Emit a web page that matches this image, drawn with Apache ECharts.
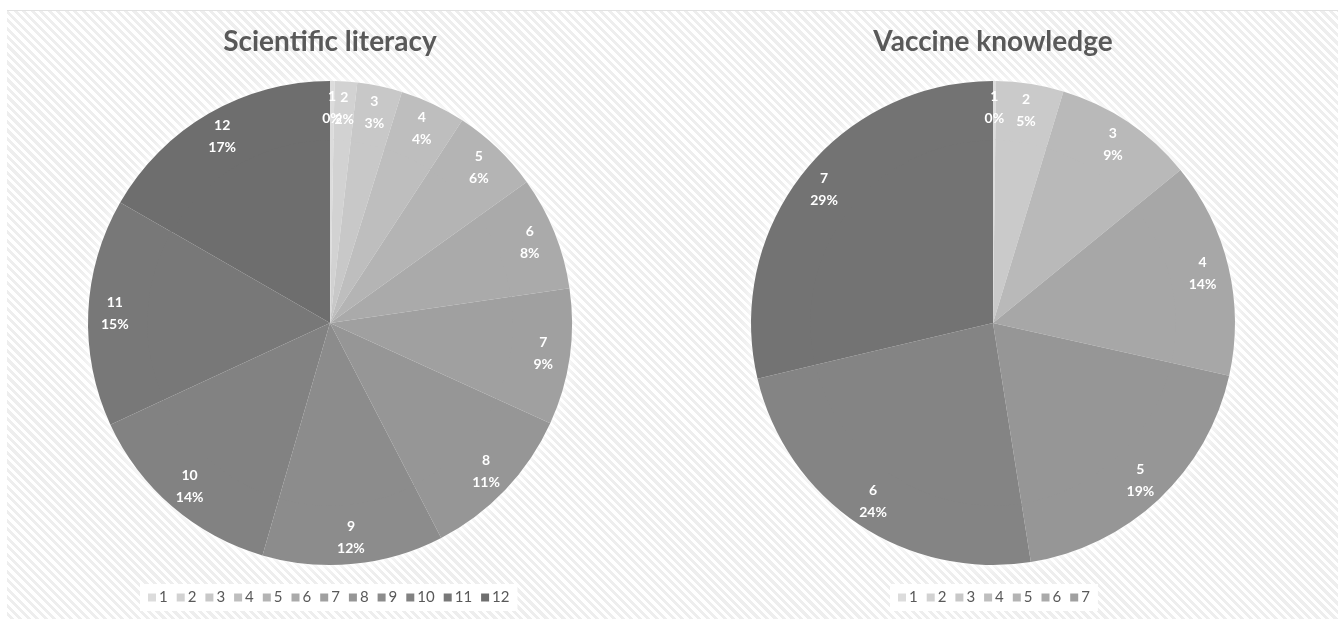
<!DOCTYPE html>
<html>
<head>
<meta charset="utf-8">
<script src="https://cdn.jsdelivr.net/npm/echarts@6/dist/echarts.min.js"></script>
<style>
  html, body { margin: 0; padding: 0; background: #fff; }
  #bg {
    position: absolute; left: 7px; top: 10px; width: 1331px; height: 609px;
    border-top: 1px solid #e2e2e2;
    background: repeating-linear-gradient(45deg, #ffffff 0px, #ffffff 3px, #eeeeee 3px, #eeeeee 6px);
  }
  #chart { position: absolute; left: 0; top: 0; width: 1338px; height: 619px; }
</style>
</head>
<body>
<div id="bg"></div>
<div id="chart"></div>
<script>
// scores and their share (percent)
const literacyNames = ['1', '2', '3', '4', '5', '6', '7', '8', '9', '10', '11', '12'];
const literacyValues = [0.3, 1.5, 3.0, 4.4, 5.9, 7.6, 9.1, 10.6, 12.1, 13.6, 15.2, 16.7];

const vaccineNames = ['1', '2', '3', '4', '5', '6', '7'];
const vaccineValues = [0.2, 4.5, 9.4, 14.4, 19.0, 23.8, 28.7];

const titles = ['Scientific literacy', 'Vaccine knowledge'];

// grey ramps, light -> dark
const literacyColors = ['#dcdcdc', '#d2d2d2', '#c8c8c8', '#bebebe', '#b4b4b4', '#aaaaaa',
  '#a0a0a0', '#969696', '#8c8c8c', '#828282', '#787878', '#6e6e6e'];
const vaccineColors = ['#dcdcdc', '#cacaca', '#b9b9b9', '#a7a7a7', '#969696', '#848484', '#737373'];

const FONT = 'Lato, "Open Sans", sans-serif';
const R = 242;

const chart = echarts.init(document.getElementById('chart'), null, { renderer: 'canvas' });

// colour set per item, otherwise pies sharing names share palette colours
function toData(names, values, colors) {
  return names.map((n, i) => ({ name: n, value: values[i], itemStyle: { color: colors[i] } }));
}

function pctLabel(values) {
  const total = values.reduce((a, b) => a + b, 0);
  return p => p.name + '\n' + Math.round(p.value / total * 100) + '%';
}

// each pie = soft white halo + solid disk + outer ring carrying the labels
function pieSeries(names, values, colors, center) {
  const common = {
    type: 'pie',
    center: center,
    startAngle: 90,
    clockwise: true,
    animation: false,
    avoidLabelOverlap: false,
    emphasis: { disabled: true },
    labelLine: { show: false },
    labelLayout: { hideOverlap: false }
  };
  return [
    {
      ...common,
      silent: true,
      radius: [0, R],
      data: [{ name: '__halo', value: 1, itemStyle: { color: '#fff' } }],
      itemStyle: { shadowBlur: 16, shadowColor: 'rgba(255,255,255,1)' },
      label: { show: false }
    },
    {
      ...common,
      radius: [0, R * 0.76],
      data: toData(names, values, colors),
      itemStyle: { borderWidth: 0 },
      label: { show: false }
    },
    {
      ...common,
      radius: [R * 0.755, R],
      data: toData(names, values, colors),
      itemStyle: { borderWidth: 0 },
      label: {
        show: true,
        position: 'inside',
        formatter: pctLabel(values),
        color: '#fff',
        fontFamily: FONT,
        fontWeight: 'bold',
        fontSize: 14,
        lineHeight: 22
      }
    }
  ];
}

const legendBase = {
  bottom: 8,
  orient: 'horizontal',
  icon: 'rect',
  itemWidth: 8,
  itemHeight: 8,
  itemGap: 9,
  backgroundColor: '#fff',
  padding: [6, 8],
  textStyle: { color: '#595959', fontFamily: FONT, fontSize: 15, padding: [0, 0, 0, -2] },
  selectedMode: false
};

const titleStyle = { fontFamily: FONT, fontWeight: 'bold', fontSize: 28, color: '#595959' };

chart.setOption({
  backgroundColor: 'transparent',
  title: [
    { text: titles[0], left: 325, top: 23, textAlign: 'center', textStyle: titleStyle },
    { text: titles[1], left: 988, top: 23, textAlign: 'center', textStyle: titleStyle }
  ],
  legend: [
    { ...legendBase, left: 140, seriesIndex: [1], data: literacyNames },
    { ...legendBase, left: 890, seriesIndex: [4], data: vaccineNames }
  ],
  series: [
    ...pieSeries(literacyNames, literacyValues, literacyColors, [330, 323]),
    ...pieSeries(vaccineNames, vaccineValues, vaccineColors, [993, 323])
  ]
});

window.addEventListener('resize', () => chart.resize());
</script>
</body>
</html>
